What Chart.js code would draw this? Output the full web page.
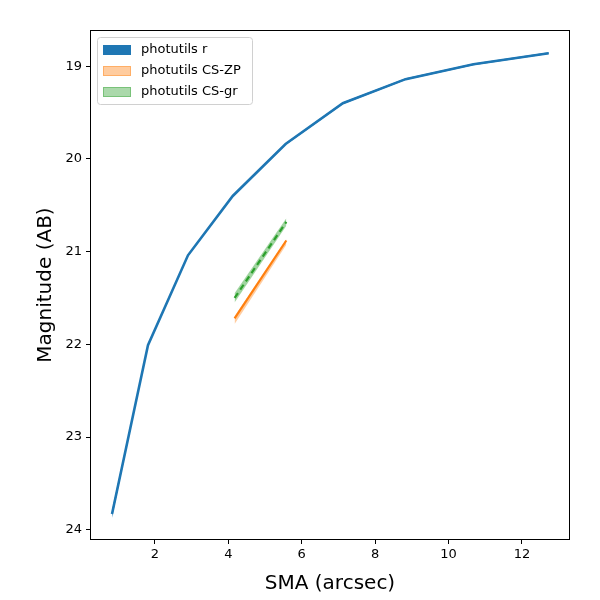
<!DOCTYPE html>
<html>
<head>
<meta charset="utf-8">
<script src="https://cdn.jsdelivr.net/npm/chart.js@4.4.1/dist/chart.umd.min.js"></script>
<style>
  html, body { margin: 0; padding: 0; background: #fff; }
  #wrap { width: 600px; height: 600px; }
</style>
</head>
<body>
<div id="wrap"><canvas id="myChart" width="600" height="600"></canvas></div>
<script>
// photutils r profile
const rSma = [0.83, 1.81, 2.90, 4.12, 5.56, 7.12, 8.83, 10.68, 12.73];
const rMag = [23.83, 22.01, 21.04, 20.40, 19.84, 19.40, 19.14, 18.98, 18.86];
const rErr = [0.04, 0.01, 0.01, 0.01, 0.01, 0.01, 0.01, 0.01, 0.01];

// colour-corrected profiles (only two radii)
const csSma = [4.17, 5.58];
const zpMag = [21.72, 20.88];
const zpErr = [0.04, 0.03];
const grMag = [21.50, 20.68];
const grErr = [0.05, 0.04];

const xTicks = [2, 4, 6, 8, 10, 12];
const yTicks = [19, 20, 21, 22, 23, 24];

const legendNames = ['photutils r', 'photutils CS-ZP', 'photutils CS-gr'];
const legendColors = ['#1f77b4', 'rgba(255,127,14,0.4)', 'rgba(44,160,44,0.4)'];

const pts = (xs, ys) => xs.map((x, i) => ({ x: x, y: ys[i] }));
const shift = (ys, es, s) => ys.map((y, i) => y + s * es[i]);

function band(xs, ys, es, color) {
    return [
        { data: pts(xs, shift(ys, es, -1)), borderWidth: 0, pointRadius: 0, fill: false, backgroundColor: color },
        { data: pts(xs, shift(ys, es, 1)), borderWidth: 0, pointRadius: 0, fill: '-1', backgroundColor: color }
    ];
}

const datasets = [
    ...band(rSma, rMag, rErr, 'rgba(31,119,180,0.9)'),
    { data: pts(rSma, rMag), borderColor: '#1f77b4', borderWidth: 2.6, pointRadius: 0, fill: false },
    ...band(csSma, shift(zpMag, zpErr, 0.5), zpErr, 'rgba(255,127,14,0.4)'),
    { data: pts(csSma, zpMag), borderColor: '#ff7f0e', borderWidth: 2.2, pointRadius: 0, fill: false },
    ...band(csSma, grMag, grErr, 'rgba(44,160,44,0.45)'),
    { data: pts(csSma, grMag), borderColor: '#2ca02c', borderWidth: 2.2, borderDash: [6, 4], pointRadius: 0, fill: false }
];

const frameAndLegend = {
    id: 'frameAndLegend',
    afterDraw(chart) {
        const { ctx, chartArea: a } = chart;
        ctx.save();
        ctx.strokeStyle = '#000';
        ctx.lineWidth = 1;
        ctx.strokeRect(a.left + 0.5, a.top + 0.5, a.right - a.left - 1, a.bottom - a.top - 1);

        // legend box, upper left
        const bx = a.left + 7, by = a.top + 7, bw = 155, bh = 67;
        ctx.fillStyle = 'rgba(255,255,255,0.8)';
        ctx.strokeStyle = '#d0d0d0';
        ctx.beginPath();
        ctx.roundRect(bx + 0.5, by + 0.5, bw, bh, 3);
        ctx.fill();
        ctx.stroke();
        ctx.font = '13px "DejaVu Sans"';
        ctx.textBaseline = 'middle';
        legendNames.forEach((name, i) => {
            const y = by + 13 + i * 21;
            ctx.fillStyle = legendColors[i];
            ctx.fillRect(bx + 6, y - 5, 28, 10);
            ctx.strokeStyle = legendColors[i];
            ctx.strokeRect(bx + 6.5, y - 4.5, 27, 9);
            ctx.fillStyle = '#000';
            ctx.fillText(name, bx + 44, y);
        });
        ctx.restore();
    }
};

const ctx = document.getElementById('myChart').getContext('2d');
new Chart(ctx, {
    type: 'line',
    data: { datasets: datasets },
    plugins: [frameAndLegend],
    options: {
        responsive: false,
        animation: false,
        layout: { padding: { top: 30, right: 30, left: 30, bottom: 0 } },
        plugins: { legend: { display: false }, tooltip: { enabled: false } },
        elements: { line: { tension: 0 } },
        scales: {
            x: {
                type: 'linear',
                min: 0.23,
                max: 13.31,
                afterBuildTicks: axis => { axis.ticks = xTicks.map(v => ({ value: v })); },
                afterFit: axis => { axis.height = 60; },
                grid: { drawOnChartArea: false, drawTicks: true, tickLength: 4, color: '#000' },
                border: { display: false },
                ticks: { color: '#000', font: { family: 'DejaVu Sans', size: 13 }, padding: 3, maxRotation: 0 },
                title: { display: true, text: 'SMA (arcsec)', color: '#000', font: { family: 'DejaVu Sans', size: 20 }, padding: { top: 0 } }
            },
            y: {
                type: 'linear',
                reverse: true,
                min: 18.61,
                max: 24.11,
                afterBuildTicks: axis => { axis.ticks = yTicks.map(v => ({ value: v })); },
                afterFit: axis => { axis.width = 60; },
                grid: { drawOnChartArea: false, drawTicks: true, tickLength: 4, color: '#000' },
                border: { display: false },
                ticks: { color: '#000', font: { family: 'DejaVu Sans', size: 13 }, padding: 4 },
                title: { display: true, text: 'Magnitude (AB)', color: '#000', font: { family: 'DejaVu Sans', size: 20 }, padding: { bottom: 0 } }
            }
        }
    }
});
</script>
</body>
</html>
